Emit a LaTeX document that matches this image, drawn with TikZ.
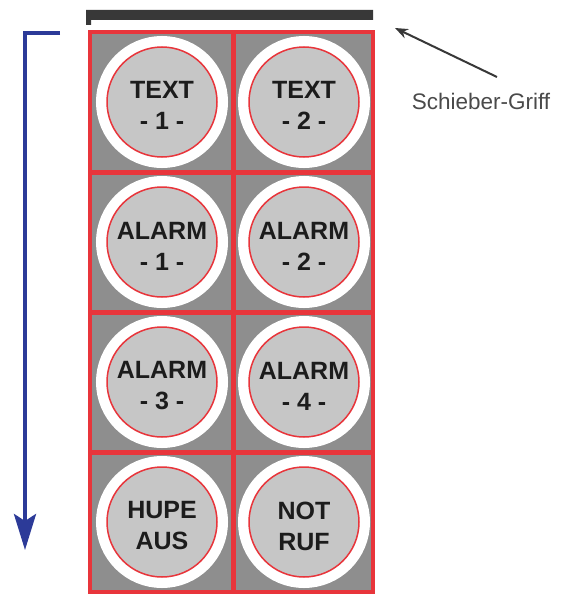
\documentclass[tikz,border=0pt]{standalone}
\usepackage{fontspec}
\setmainfont{Liberation Sans}
\usetikzlibrary{arrows.meta}
\definecolor{gridred}{HTML}{E8353B}
\definecolor{cellgray}{HTML}{8E8E8E}
\definecolor{btngray}{HTML}{C6C6C6}
\definecolor{barcol}{HTML}{383838}
\definecolor{arrowblue}{HTML}{2C3A98}
\definecolor{labgray}{HTML}{4A4A4A}
\definecolor{textblack}{HTML}{1C1C1C}
\begin{document}
\begin{tikzpicture}[x=1pt,y=-1pt,
  cell/.style={fill=cellgray, inner sep=0pt, outer sep=0pt, minimum height=140pt},
  btn/.style={circle, minimum size=110pt, inner sep=0pt, fill=btngray, draw=gridred,
    line width=1.5pt, preaction={draw=white, line width=22pt}},
  lbl/.style={font=\bfseries\fontsize{25}{31}\selectfont, align=center, text=textblack, inner sep=0pt},
  gridline/.style={draw=gridred},
  note/.style={font=\fontsize{22.5}{26}\selectfont, text=labgray, inner sep=0pt}]
\useasboundingbox (0,0) rectangle (564,594);
% cells
\foreach \r/\y in {1/102,2/242,3/382,4/522}{
  \node[cell, minimum width=143pt] (c\r1) at (161.5,\y) {};
  \node[cell, minimum width=140pt] (c\r2) at (303,\y) {};
}
% grid lines
\draw[gridline, line width=5pt] (233,32) -- (233,592);
\foreach \y in {172,312,452}{ \draw[gridline, line width=5pt] (90,\y) -- (373,\y); }
\draw[gridline, line width=3.5pt] (90,32) rectangle (373,592);
% buttons
\foreach \r/\y in {1/102,2/242,3/382,4/522}{
  \node[btn] (k\r1) at (162,\y) {};
  \node[btn] (k\r2) at (304,\y) {};
}
\node[lbl] (t11) at ([yshift=-3pt]k11.center) {TEXT\\- 1 -};
\node[lbl] (t12) at ([yshift=-3pt]k12.center) {TEXT\\- 2 -};
\node[lbl] (t21) at ([yshift=-4pt]k21.center) {ALARM\\- 1 -};
\node[lbl] (t22) at ([yshift=-4pt]k22.center) {ALARM\\- 2 -};
\node[lbl] (t31) at ([yshift=-4pt]k31.center) {ALARM\\- 3 -};
\node[lbl] (t32) at ([yshift=-4pt]k32.center) {ALARM\\- 4 -};
\node[lbl] (t41) at ([yshift=-4pt]k41.center) {HUPE\\AUS};
\node[lbl] (t42) at ([yshift=-4pt]k42.center) {NOT\\RUF};
% slider handle bar
\fill[barcol] (86,10) -- (373,10) -- (373,20) -- (91,20) -- (91,25) -- (86,25) -- cycle;
% label and pointer
\node[note] (lab) at (481,101) {Schieber-Griff};
\coordinate (tail) at (497,77);
\coordinate (tip) at (395,28);
\draw[line width=2pt, draw=barcol, -{Stealth[length=13pt,width=10pt]}] (tail) -- (tip);
% blue direction arrow
\coordinate (bstart) at (60,33);
\coordinate (bcorner) at (25,33);
\coordinate (bend) at (25,550);
\draw[arrowblue, line width=4pt, -{Stealth[length=36pt,width=22pt,inset=7pt]}] (bstart) -- (bcorner) -- (bend);
\end{tikzpicture}
\end{document}
